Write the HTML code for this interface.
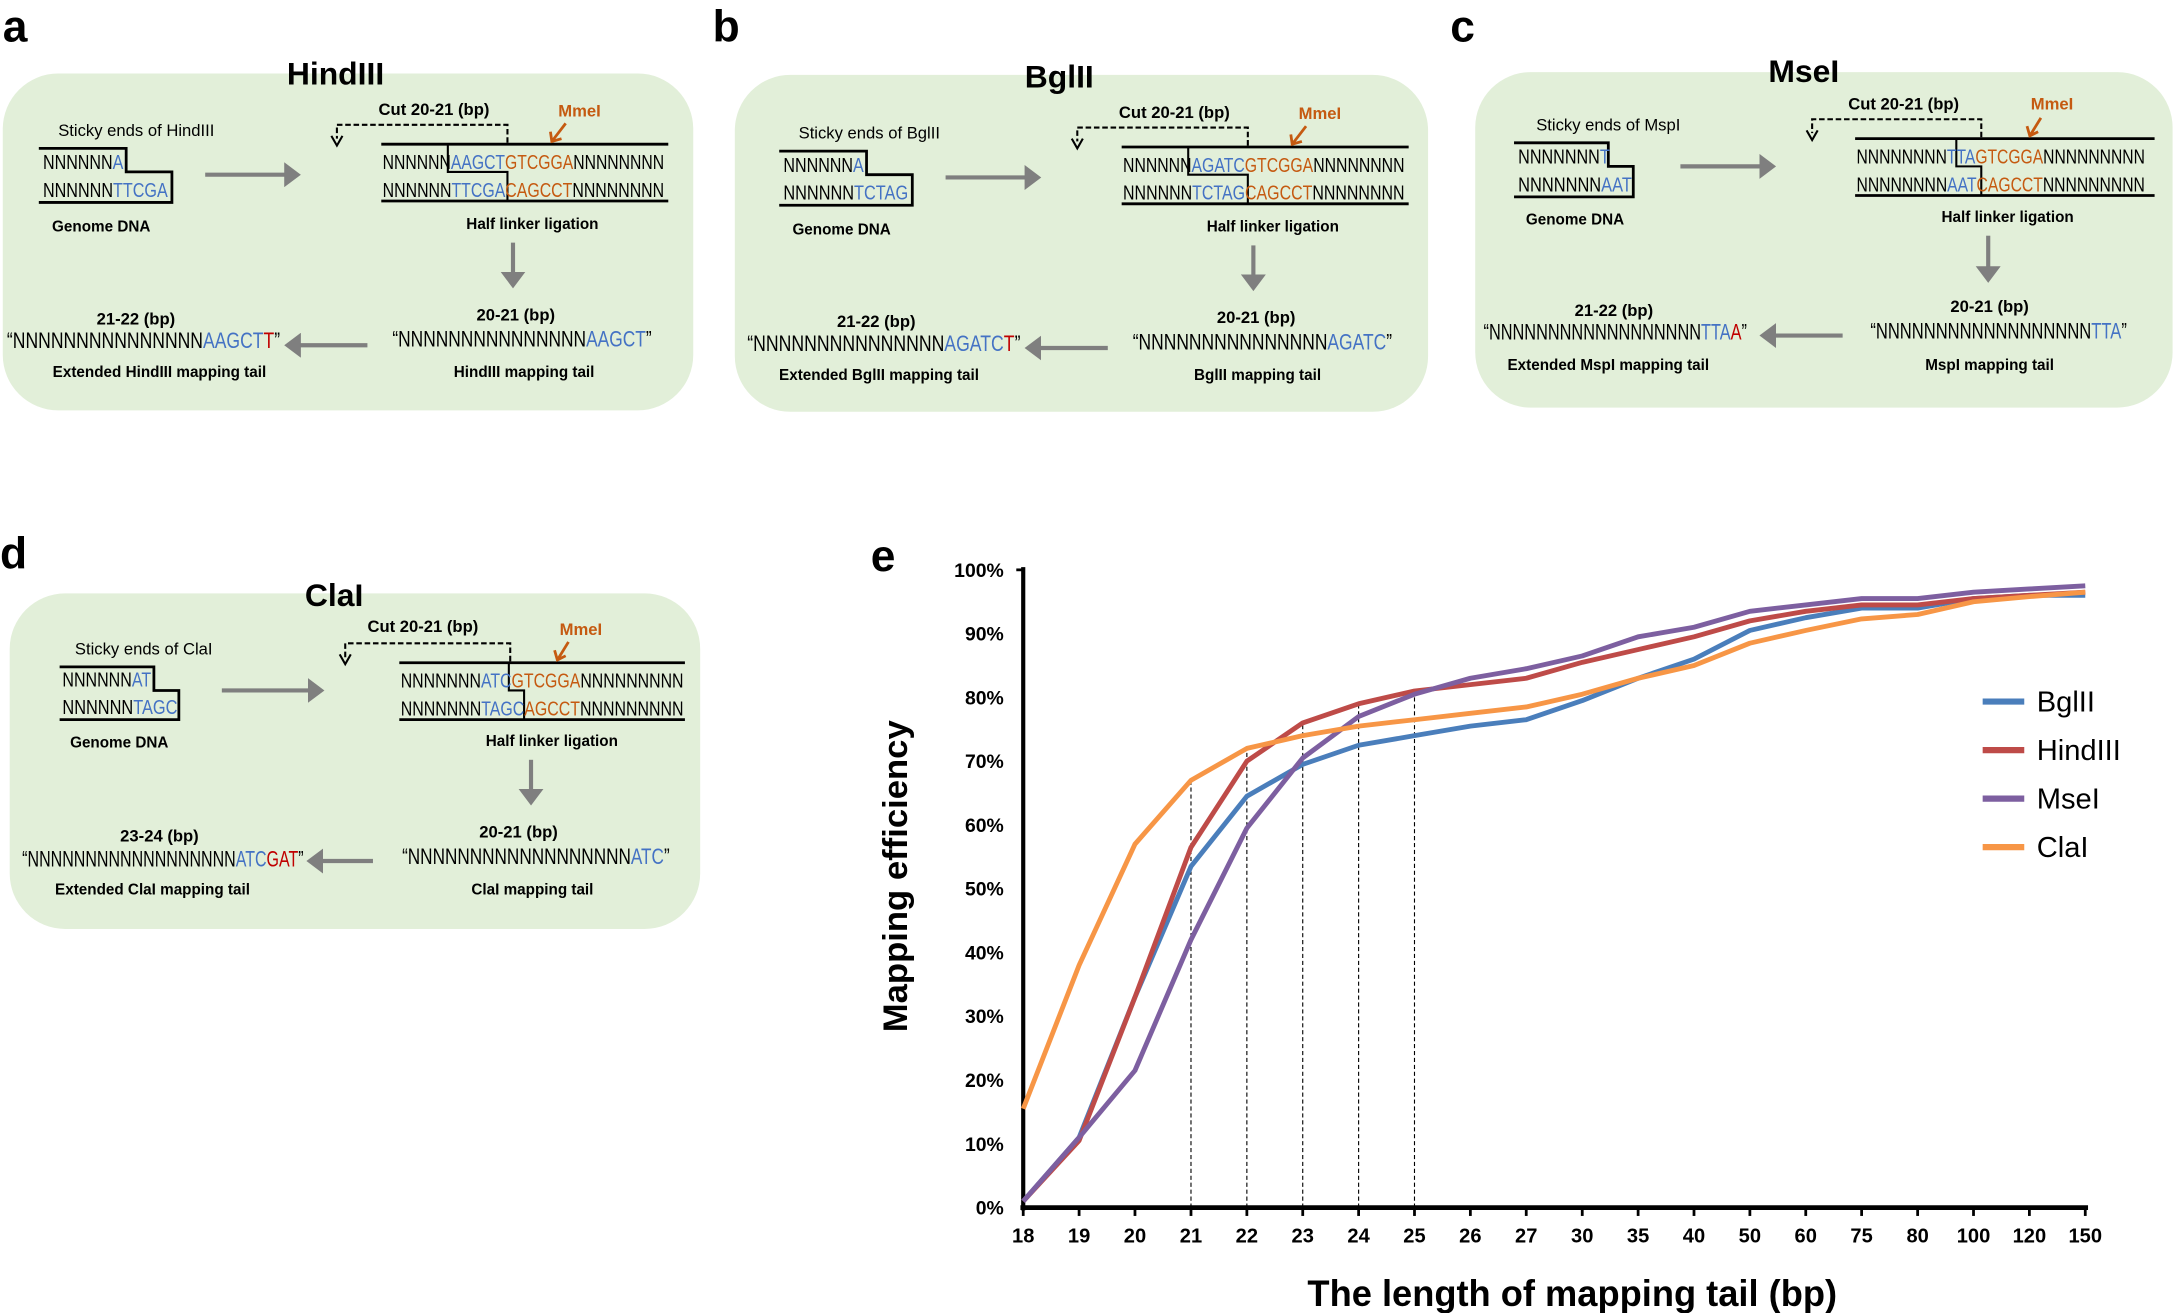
<!DOCTYPE html>
<html><head><meta charset="utf-8"><style>
html,body{margin:0;padding:0;background:#fff;}
svg{display:block;}
text{font-family:"Liberation Sans",sans-serif;}
.b{font-weight:bold;}
.bl{fill:#4472c4}.or{fill:#c55a11}.rd{fill:#c00000}
</style></head><body>
<svg width="2174" height="1313" viewBox="0 0 1568 947" preserveAspectRatio="none" xmlns="http://www.w3.org/2000/svg">
<defs>
<marker id="ga" markerWidth="6" markerHeight="6" refX="1" refY="3" orient="auto" markerUnits="strokeWidth"><path d="M0,0 L4,3 L0,6z" fill="#7f7f7f"/></marker>
</defs>
<rect width="1568" height="947" fill="#fff"/>
<rect x="2" y="53" width="498" height="243" rx="40" fill="#e2efd9"/>
<rect x="530" y="54" width="500" height="243" rx="40" fill="#e2efd9"/>
<rect x="1064" y="52" width="503" height="242" rx="40" fill="#e2efd9"/>
<rect x="7" y="428" width="498" height="242" rx="40" fill="#e2efd9"/>
<text x="2" y="30" font-size="32" class="b">a</text>
<text x="514" y="30" font-size="32" class="b">b</text>
<text x="1046" y="30" font-size="32" class="b">c</text>
<text x="0" y="410" font-size="32" class="b">d</text>
<text x="628" y="412" font-size="32" class="b">e</text>
<g font-size="23" class="b" text-anchor="middle">
<text x="242" y="61" class="b">HindIII</text>
<text x="764" y="63" class="b">BglII</text>
<text x="1301" y="59" class="b">MseI</text>
<text x="241" y="437" class="b">ClaI</text>
</g>

<g transform="translate(0,0)">
<text x="42" y="98" font-size="12">Sticky ends of HindIII</text>
<path d="M28,107 H91 V124 H124 V146 H28" fill="none" stroke="#000" stroke-width="2"/>
<text x="31" y="122" font-size="14.5" textLength="58" lengthAdjust="spacingAndGlyphs">NNNNNN<tspan class="bl">A</tspan></text>
<text x="31" y="142" font-size="14.5" textLength="90" lengthAdjust="spacingAndGlyphs">NNNNNN<tspan class="bl">TTCGA</tspan></text>
<text x="73" y="167" font-size="11" class="b" text-anchor="middle">Genome DNA</text>
<line x1="148" y1="126" x2="208" y2="126" stroke="#7f7f7f" stroke-width="3" marker-end="url(#ga)"/>
<line x1="275" y1="104" x2="482" y2="104" stroke="#000" stroke-width="2"/>
<line x1="275" y1="145" x2="482" y2="145" stroke="#000" stroke-width="2"/>
<path d="M323,104 V124 H366 V145" fill="none" stroke="#000" stroke-width="1.5"/>
<text x="276" y="122" font-size="14.5" textLength="203" lengthAdjust="spacingAndGlyphs">NNNNNN<tspan class="bl">AAGCT</tspan><tspan class="or">GTCGGA</tspan>NNNNNNNN</text>
<text x="276" y="142" font-size="14.5" textLength="203" lengthAdjust="spacingAndGlyphs">NNNNNN<tspan class="bl">TTCGA</tspan><tspan class="or">CAGCCT</tspan>NNNNNNNN</text>
<path d="M366,103 V90 H243 V100" fill="none" stroke="#000" stroke-width="1.5" stroke-dasharray="4,2"/>
<path d="M239,98 L243,105 L247,98" fill="none" stroke="#000" stroke-width="1.5"/>
<text x="313" y="83" font-size="12" class="b" text-anchor="middle">Cut 20-21 (bp)</text>
<text x="418" y="84" font-size="12" class="b or" text-anchor="middle">MmeI</text>
<path d="M408,89 L398,102 M397,95 L398,102 L405,100" fill="none" stroke="#c55a11" stroke-width="2"/>
<text x="384" y="165" font-size="11" class="b" text-anchor="middle">Half linker ligation</text>
<line x1="370" y1="175" x2="370" y2="199" stroke="#7f7f7f" stroke-width="3" marker-end="url(#ga)"/>
<text x="372" y="231" font-size="12" class="b" text-anchor="middle">20-21 (bp)</text>
<text x="283" y="250" font-size="16" textLength="187" lengthAdjust="spacingAndGlyphs">“NNNNNNNNNNNNNNN<tspan class="bl">AAGCT</tspan>”</text>
<text x="378" y="272" font-size="11" class="b" text-anchor="middle">HindIII mapping tail</text>
<line x1="265" y1="249" x2="214" y2="249" stroke="#7f7f7f" stroke-width="3" marker-end="url(#ga)"/>
<text x="98" y="234" font-size="12" class="b" text-anchor="middle">21-22 (bp)</text>
<text x="5" y="251" font-size="16" textLength="197" lengthAdjust="spacingAndGlyphs">“NNNNNNNNNNNNNNN<tspan class="bl">AAGCT</tspan><tspan class="rd">T</tspan>”</text>
<text x="115" y="272" font-size="11" class="b" text-anchor="middle">Extended HindIII mapping tail</text>
</g>

<g transform="translate(534,2)">
<text x="42" y="98" font-size="12">Sticky ends of BglII</text>
<path d="M28,107 H91 V124 H124 V146 H28" fill="none" stroke="#000" stroke-width="2"/>
<text x="31" y="122" font-size="14.5" textLength="58" lengthAdjust="spacingAndGlyphs">NNNNNN<tspan class="bl">A</tspan></text>
<text x="31" y="142" font-size="14.5" textLength="90" lengthAdjust="spacingAndGlyphs">NNNNNN<tspan class="bl">TCTAG</tspan></text>
<text x="73" y="167" font-size="11" class="b" text-anchor="middle">Genome DNA</text>
<line x1="148" y1="126" x2="208" y2="126" stroke="#7f7f7f" stroke-width="3" marker-end="url(#ga)"/>
<line x1="275" y1="104" x2="482" y2="104" stroke="#000" stroke-width="2"/>
<line x1="275" y1="145" x2="482" y2="145" stroke="#000" stroke-width="2"/>
<path d="M323,104 V124 H366 V145" fill="none" stroke="#000" stroke-width="1.5"/>
<text x="276" y="122" font-size="14.5" textLength="203" lengthAdjust="spacingAndGlyphs">NNNNNN<tspan class="bl">AGATC</tspan><tspan class="or">GTCGGA</tspan>NNNNNNNN</text>
<text x="276" y="142" font-size="14.5" textLength="203" lengthAdjust="spacingAndGlyphs">NNNNNN<tspan class="bl">TCTAG</tspan><tspan class="or">CAGCCT</tspan>NNNNNNNN</text>
<path d="M366,103 V90 H243 V100" fill="none" stroke="#000" stroke-width="1.5" stroke-dasharray="4,2"/>
<path d="M239,98 L243,105 L247,98" fill="none" stroke="#000" stroke-width="1.5"/>
<text x="313" y="83" font-size="12" class="b" text-anchor="middle">Cut 20-21 (bp)</text>
<text x="418" y="84" font-size="12" class="b or" text-anchor="middle">MmeI</text>
<path d="M408,89 L398,102 M397,95 L398,102 L405,100" fill="none" stroke="#c55a11" stroke-width="2"/>
<text x="384" y="165" font-size="11" class="b" text-anchor="middle">Half linker ligation</text>
<line x1="370" y1="175" x2="370" y2="199" stroke="#7f7f7f" stroke-width="3" marker-end="url(#ga)"/>
<text x="372" y="231" font-size="12" class="b" text-anchor="middle">20-21 (bp)</text>
<text x="283" y="250" font-size="16" textLength="187" lengthAdjust="spacingAndGlyphs">“NNNNNNNNNNNNNNN<tspan class="bl">AGATC</tspan>”</text>
<text x="373" y="272" font-size="11" class="b" text-anchor="middle">BglII mapping tail</text>
<line x1="265" y1="249" x2="214" y2="249" stroke="#7f7f7f" stroke-width="3" marker-end="url(#ga)"/>
<text x="98" y="234" font-size="12" class="b" text-anchor="middle">21-22 (bp)</text>
<text x="5" y="251" font-size="16" textLength="197" lengthAdjust="spacingAndGlyphs">“NNNNNNNNNNNNNNN<tspan class="bl">AGATC</tspan><tspan class="rd">T</tspan>”</text>
<text x="100" y="272" font-size="11" class="b" text-anchor="middle">Extended BglII mapping tail</text>
</g>

<g transform="translate(1064,-4)">
<text x="44" y="98" font-size="12">Sticky ends of MspI</text>
<path d="M28,107 H96 V124 H114 V146 H28" fill="none" stroke="#000" stroke-width="2"/>
<text x="31" y="122" font-size="14.5" textLength="66" lengthAdjust="spacingAndGlyphs">NNNNNNN<tspan class="bl">T</tspan></text>
<text x="31" y="142" font-size="14.5" textLength="82" lengthAdjust="spacingAndGlyphs">NNNNNNN<tspan class="bl">AAT</tspan></text>
<text x="72" y="166" font-size="11" class="b" text-anchor="middle">Genome DNA</text>
<line x1="148" y1="124" x2="208" y2="124" stroke="#7f7f7f" stroke-width="3" marker-end="url(#ga)"/>
<line x1="274" y1="104" x2="490" y2="104" stroke="#000" stroke-width="2"/>
<line x1="274" y1="145" x2="490" y2="145" stroke="#000" stroke-width="2"/>
<path d="M347,104 V124 H365 V145" fill="none" stroke="#000" stroke-width="1.5"/>
<text x="275" y="122" font-size="14.5" textLength="208" lengthAdjust="spacingAndGlyphs">NNNNNNNN<tspan class="bl">TTA</tspan><tspan class="or">GTCGGA</tspan>NNNNNNNNN</text>
<text x="275" y="142" font-size="14.5" textLength="208" lengthAdjust="spacingAndGlyphs">NNNNNNNN<tspan class="bl">AAT</tspan><tspan class="or">CAGCCT</tspan>NNNNNNNNN</text>
<path d="M365,103 V90 H243 V100" fill="none" stroke="#000" stroke-width="1.5" stroke-dasharray="4,2"/>
<path d="M239,98 L243,105 L247,98" fill="none" stroke="#000" stroke-width="1.5"/>
<text x="309" y="83" font-size="12" class="b" text-anchor="middle">Cut 20-21 (bp)</text>
<text x="416" y="83" font-size="12" class="b or" text-anchor="middle">MmeI</text>
<path d="M408,89 L400,102 M398,95 L400,102 L406,99" fill="none" stroke="#c55a11" stroke-width="2"/>
<text x="384" y="164" font-size="11" class="b" text-anchor="middle">Half linker ligation</text>
<line x1="370" y1="174" x2="370" y2="199" stroke="#7f7f7f" stroke-width="3" marker-end="url(#ga)"/>
<text x="371" y="229" font-size="12" class="b" text-anchor="middle">20-21 (bp)</text>
<text x="285" y="248" font-size="16" textLength="185" lengthAdjust="spacingAndGlyphs">“NNNNNNNNNNNNNNNNNN<tspan class="bl">TTA</tspan>”</text>
<text x="371" y="271" font-size="11" class="b" text-anchor="middle">MspI mapping tail</text>
<line x1="265" y1="246" x2="214" y2="246" stroke="#7f7f7f" stroke-width="3" marker-end="url(#ga)"/>
<text x="100" y="232" font-size="12" class="b" text-anchor="middle">21-22 (bp)</text>
<text x="6" y="249" font-size="16" textLength="190" lengthAdjust="spacingAndGlyphs">“NNNNNNNNNNNNNNNNNN<tspan class="bl">TTA</tspan><tspan class="rd">A</tspan>”</text>
<text x="96" y="271" font-size="11" class="b" text-anchor="middle">Extended MspI mapping tail</text>
</g>

<g transform="translate(10,373)">
<text x="44" y="99" font-size="12">Sticky ends of ClaI</text>
<path d="M33,108 H101 V125 H119 V146 H33" fill="none" stroke="#000" stroke-width="2"/>
<text x="35" y="122" font-size="14.5" textLength="64" lengthAdjust="spacingAndGlyphs">NNNNNN<tspan class="bl">AT</tspan></text>
<text x="35" y="142" font-size="14.5" textLength="83" lengthAdjust="spacingAndGlyphs">NNNNNN<tspan class="bl">TAGC</tspan></text>
<text x="76" y="166" font-size="11" class="b" text-anchor="middle">Genome DNA</text>
<line x1="150" y1="125" x2="215" y2="125" stroke="#7f7f7f" stroke-width="3" marker-end="url(#ga)"/>
<line x1="278" y1="105" x2="484" y2="105" stroke="#000" stroke-width="2"/>
<line x1="278" y1="146" x2="484" y2="146" stroke="#000" stroke-width="2"/>
<path d="M357,105 V125 H368 V146" fill="none" stroke="#000" stroke-width="1.5"/>
<text x="279" y="123" font-size="14.5" textLength="204" lengthAdjust="spacingAndGlyphs">NNNNNNN<tspan class="bl">ATC</tspan><tspan class="or">GTCGGA</tspan>NNNNNNNNN</text>
<text x="279" y="143" font-size="14.5" textLength="204" lengthAdjust="spacingAndGlyphs">NNNNNNN<tspan class="bl">TAGC</tspan><tspan class="or">AGCCT</tspan>NNNNNNNNN</text>
<path d="M358,104 V91 H239 V101" fill="none" stroke="#000" stroke-width="1.5" stroke-dasharray="4,2"/>
<path d="M235,99 L239,106 L243,99" fill="none" stroke="#000" stroke-width="1.5"/>
<text x="295" y="83" font-size="12" class="b" text-anchor="middle">Cut 20-21 (bp)</text>
<text x="409" y="85" font-size="12" class="b or" text-anchor="middle">MmeI</text>
<path d="M400,90 L392,103 M390,96 L392,103 L398,100" fill="none" stroke="#c55a11" stroke-width="2"/>
<text x="388" y="165" font-size="11" class="b" text-anchor="middle">Half linker ligation</text>
<line x1="373" y1="175" x2="373" y2="199" stroke="#7f7f7f" stroke-width="3" marker-end="url(#ga)"/>
<text x="364" y="231" font-size="12" class="b" text-anchor="middle">20-21 (bp)</text>
<text x="280" y="250" font-size="16" textLength="193" lengthAdjust="spacingAndGlyphs">“NNNNNNNNNNNNNNNNNN<tspan class="bl">ATC</tspan>”</text>
<text x="374" y="272" font-size="11" class="b" text-anchor="middle">ClaI mapping tail</text>
<line x1="259" y1="248" x2="220" y2="248" stroke="#7f7f7f" stroke-width="3" marker-end="url(#ga)"/>
<text x="105" y="234" font-size="12" class="b" text-anchor="middle">23-24 (bp)</text>
<text x="6" y="252" font-size="16" textLength="203" lengthAdjust="spacingAndGlyphs">“NNNNNNNNNNNNNNNNNN<tspan class="bl">ATC</tspan><tspan class="rd">GAT</tspan>”</text>
<text x="100" y="272" font-size="11" class="b" text-anchor="middle">Extended ClaI mapping tail</text>
</g>

<g>
<g stroke="#000" stroke-width="0.8" stroke-dasharray="3,2">
<line x1="859" y1="871" x2="859" y2="563"/>
<line x1="899.3" y1="871" x2="899.3" y2="540"/>
<line x1="939.6" y1="871" x2="939.6" y2="521"/>
<line x1="979.9" y1="871" x2="979.9" y2="508"/>
<line x1="1020.2" y1="871" x2="1020.2" y2="498"/>
</g>
<line x1="738" y1="409" x2="738" y2="873" stroke="#000" stroke-width="3"/>
<line x1="736" y1="871" x2="1506" y2="871" stroke="#000" stroke-width="3.5"/>
<g stroke="#000" stroke-width="2">
<line x1="738" y1="871" x2="738" y2="877"/><line x1="778.3" y1="871" x2="778.3" y2="877"/><line x1="818.6" y1="871" x2="818.6" y2="877"/><line x1="859" y1="871" x2="859" y2="877"/><line x1="899.3" y1="871" x2="899.3" y2="877"/><line x1="939.6" y1="871" x2="939.6" y2="877"/><line x1="979.9" y1="871" x2="979.9" y2="877"/><line x1="1020.2" y1="871" x2="1020.2" y2="877"/><line x1="1060.5" y1="871" x2="1060.5" y2="877"/><line x1="1100.8" y1="871" x2="1100.8" y2="877"/><line x1="1141.2" y1="871" x2="1141.2" y2="877"/><line x1="1181.5" y1="871" x2="1181.5" y2="877"/><line x1="1221.8" y1="871" x2="1221.8" y2="877"/><line x1="1262.1" y1="871" x2="1262.1" y2="877"/><line x1="1302.4" y1="871" x2="1302.4" y2="877"/><line x1="1342.7" y1="871" x2="1342.7" y2="877"/><line x1="1383.1" y1="871" x2="1383.1" y2="877"/><line x1="1423.4" y1="871" x2="1423.4" y2="877"/><line x1="1463.7" y1="871" x2="1463.7" y2="877"/><line x1="1504" y1="871" x2="1504" y2="877"/>
<line x1="733" y1="411" x2="738" y2="411"/>
</g>
<g font-size="14" class="b" text-anchor="end">
<text x="724" y="416" class="b">100%</text><text x="724" y="462" class="b">90%</text><text x="724" y="508" class="b">80%</text><text x="724" y="554" class="b">70%</text><text x="724" y="600" class="b">60%</text><text x="724" y="646" class="b">50%</text><text x="724" y="692" class="b">40%</text><text x="724" y="738" class="b">30%</text><text x="724" y="784" class="b">20%</text><text x="724" y="830" class="b">10%</text><text x="724" y="876" class="b">0%</text>
</g>
<g font-size="14.5" class="b" text-anchor="middle">
<text x="738" y="896" class="b">18</text><text x="778.3" y="896" class="b">19</text><text x="818.6" y="896" class="b">20</text><text x="859" y="896" class="b">21</text><text x="899.3" y="896" class="b">22</text><text x="939.6" y="896" class="b">23</text><text x="979.9" y="896" class="b">24</text><text x="1020.2" y="896" class="b">25</text><text x="1060.5" y="896" class="b">26</text><text x="1100.8" y="896" class="b">27</text><text x="1141.2" y="896" class="b">30</text><text x="1181.5" y="896" class="b">35</text><text x="1221.8" y="896" class="b">40</text><text x="1262.1" y="896" class="b">50</text><text x="1302.4" y="896" class="b">60</text><text x="1342.7" y="896" class="b">75</text><text x="1383.1" y="896" class="b">80</text><text x="1423.4" y="896" class="b">100</text><text x="1463.7" y="896" class="b">120</text><text x="1504" y="896" class="b">150</text>
</g>
<text x="943" y="942" font-size="27" class="b" textLength="382" lengthAdjust="spacingAndGlyphs">The length of mapping tail (bp)</text>
<text transform="translate(654,632) rotate(-90)" font-size="25" class="b" text-anchor="middle">Mapping efficiency</text>
<g fill="none" stroke-width="3.5" stroke-linejoin="round">
<polyline stroke="#4a7ebb" points="738,866.4 778.3,820.4 818.6,719.2 859,624.9 899.3,574.3 939.6,551.3 979.9,537.5 1020.2,530.6 1060.5,523.7 1100.8,519.1 1141.2,505.3 1181.5,489.2 1221.8,475.4 1262.1,454.7 1302.4,445.5 1342.7,438.6 1383.1,438.6 1423.4,431.7 1463.7,429.4 1504,429.4"/>
<polyline stroke="#be4b48" points="738,866.4 778.3,822.7 818.6,719.2 859,611.1 899.3,549 939.6,521.4 979.9,507.6 1020.2,498.4 1060.5,493.8 1100.8,489.2 1141.2,477.7 1181.5,468.5 1221.8,459.3 1262.1,447.8 1302.4,440.9 1342.7,436.3 1383.1,436.3 1423.4,431.7 1463.7,429.4 1504,427.1"/>
<polyline stroke="#7d5fa0" points="738,866.4 778.3,820.4 818.6,772.1 859,677.8 899.3,597.3 939.6,546.7 979.9,516.8 1020.2,500.7 1060.5,489.2 1100.8,482.3 1141.2,473.1 1181.5,459.3 1221.8,452.4 1262.1,440.9 1302.4,436.3 1342.7,431.7 1383.1,431.7 1423.4,427.1 1463.7,424.8 1504,422.5"/>
<polyline stroke="#f79646" points="738,799.7 778.3,696.2 818.6,608.8 859,562.8 899.3,539.8 939.6,530.6 979.9,523.7 1020.2,519.1 1060.5,514.5 1100.8,509.9 1141.2,500.7 1181.5,489.2 1221.8,480 1262.1,463.9 1302.4,454.7 1342.7,446.4 1383.1,443.2 1423.4,434 1463.7,430.3 1504,427.1"/>
</g>
<g stroke-width="4.5">
<line x1="1430" y1="506" x2="1460" y2="506" stroke="#4a7ebb"/>
<line x1="1430" y1="541" x2="1460" y2="541" stroke="#be4b48"/>
<line x1="1430" y1="576" x2="1460" y2="576" stroke="#7d5fa0"/>
<line x1="1430" y1="611" x2="1460" y2="611" stroke="#f79646"/>
</g>
<g font-size="21">
<text x="1469" y="513">BglII</text><text x="1469" y="548">HindIII</text><text x="1469" y="583">MseI</text><text x="1469" y="618">ClaI</text>
</g>
</g>
</svg>
</body></html>
